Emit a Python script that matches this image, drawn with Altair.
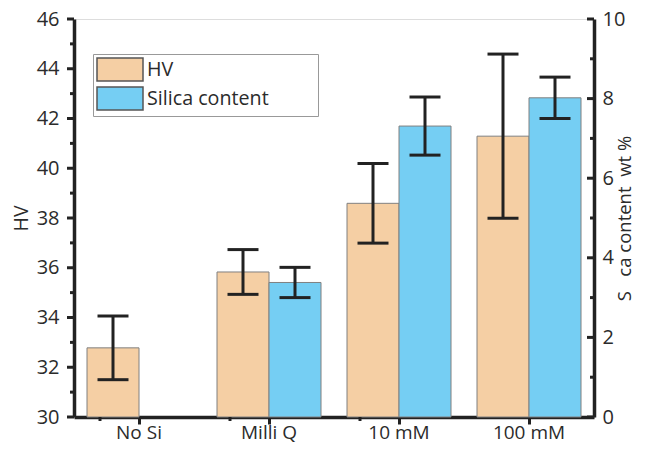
import altair as alt
import pandas as pd

categories = ["No Si", "Milli Q", "10 mM", "100 mM"]
hv = [32.78, 35.83, 38.59, 41.29]
hv_err = [1.28, 0.90, 1.60, 3.30]
silica_cats = ["Milli Q", "10 mM", "100 mM"]
silica = [3.38, 7.31, 8.02]
silica_err = [0.38, 0.73, 0.52]
series_names = ["HV", "Silica content"]
colors = ["#F5CFA4", "#75CEF3"]
hv_ticks = list(range(30, 47))
si_ticks = list(range(0, 11))
right_title = "S\u00a0\u00a0\u00a0ca content\u00a0\u00a0wt %"

hv_df = pd.DataFrame({
    "cat": categories,
    "series": "HV",
    "value": hv,
    "lo": [v - e for v, e in zip(hv, hv_err)],
    "hi": [v + e for v, e in zip(hv, hv_err)],
})
si_df = pd.DataFrame({
    "cat": silica_cats,
    "series": "Silica content",
    "value": silica,
    "lo": [v - e for v, e in zip(silica, silica_err)],
    "hi": [v + e for v, e in zip(silica, silica_err)],
})
minor_df = pd.DataFrame({"cat": categories[:-1]})

W, H = 520, 398
FONT = "Open Sans"
TXT = "#2b2b2b"
AX = "#222222"

x_axis = alt.Axis(
    title=None, labelFontSize=19, labelColor=TXT, labelFont=FONT,
    domainColor=AX, domainWidth=3.5, tickColor=AX, tickWidth=3, tickSize=7,
    labelPadding=14, labelBaseline="alphabetic", labelAngle=0,
)
x_scale = alt.Scale(domain=categories, paddingInner=0.2, paddingOuter=0.1)
x_enc = alt.X("cat:N", sort=categories, scale=x_scale, axis=x_axis)
xoff = alt.XOffset("series:N", scale=alt.Scale(domain=series_names, paddingInner=0, paddingOuter=0))
color_enc = alt.Color(
    "series:N",
    scale=alt.Scale(domain=series_names, range=colors),
    legend=alt.Legend(
        title=None, orient="none", legendX=19, legendY=35,
        symbolType="M-2,-1H2V1H-2Z", symbolSize=529, symbolOffset=11.5,
        symbolStrokeColor="#555555", symbolStrokeWidth=1.5, symbolOpacity=1,
        labelFontSize=19.7, labelFont=FONT, labelColor=TXT, labelOffset=14.5,
        labelLimit=400,
        rowPadding=0, padding=3, strokeColor="#999999", fillColor="white",
        labelExpr="datum.label + '\u00a0\u00a0\u00a0\u00a0\u00a0\u00a0\u00a0\u00a0\u00a0\u200b'",
    ),
)

def yaxis(title, orient, pad, tpad, tsize):
    return alt.Axis(
        values=[v for v in (hv_ticks if orient == "left" else si_ticks) if v % 2 == 0],
        title=title, orient=orient,
        labelFontSize=20, labelFont=FONT, labelColor=TXT,
        titleFontSize=tsize, titleFont=FONT, titleColor=TXT, titleFontWeight="normal",
        titleAngle=270, titlePadding=tpad,
        domainColor=AX, domainWidth=3.5, ticks=False,
        grid=False, labelPadding=pad,
    )

def layer_for(df, domain, ticks, title, orient):
    pad, tpad, tsize = (15, 5, 19.5) if orient == "left" else (8, 10, 18.5)
    ax = yaxis(title, orient, pad, tpad, tsize)
    sc = alt.Scale(domain=domain, nice=False, zero=False)
    base = alt.Chart(df)
    bars = base.mark_bar(stroke="#808080", strokeWidth=1, opacity=1).encode(
        x=x_enc, xOffset=xoff,
        y=alt.Y("value:Q", scale=sc, axis=ax),
        y2=alt.datum(domain[0]),
        color=color_enc,
    )
    rule = base.mark_rule(color=AX, strokeWidth=3).encode(
        x=x_enc, xOffset=xoff,
        y=alt.Y("lo:Q", scale=sc, axis=ax), y2="hi:Q",
    )
    cap_lo = base.mark_tick(color=AX, thickness=3, size=31, opacity=1).encode(
        x=x_enc, xOffset=xoff, y=alt.Y("lo:Q", scale=sc, axis=ax),
    )
    cap_hi = base.mark_tick(color=AX, thickness=3, size=31, opacity=1).encode(
        x=x_enc, xOffset=xoff, y=alt.Y("hi:Q", scale=sc, axis=ax),
    )
    tdf = pd.DataFrame({"t": ticks})
    tbase = alt.Chart(tdf)
    if orient == "left":
        major_x, minor_x, x_end = -7, -4, 0
    else:
        major_x, minor_x, x_end = W - 7, W - 4, W
    major = tbase.transform_filter("datum.t % 2 == 0").mark_rule(color=AX, strokeWidth=3).encode(
        y=alt.Y("t:Q", scale=sc, axis=ax), x=alt.value(major_x), x2=alt.value(x_end),
    )
    minor = tbase.transform_filter("datum.t % 2 != 0").mark_rule(color=AX, strokeWidth=3).encode(
        y=alt.Y("t:Q", scale=sc, axis=ax), x=alt.value(minor_x), x2=alt.value(x_end),
    )
    return alt.layer(bars, rule, cap_lo, cap_hi, major, minor)

hv_layer = layer_for(hv_df, [30, 46], hv_ticks, "HV", "left")
si_layer = layer_for(si_df, [0, 10], si_ticks, right_title, "right")

minor_x = alt.Chart(minor_df).mark_rule(color=AX, strokeWidth=3).encode(
    x=alt.X("cat:N", sort=categories, scale=x_scale, axis=x_axis, bandPosition=1),
    xOffset=alt.value(13),
    y=alt.value(H), y2=alt.value(H + 4),
)

chart = alt.layer(hv_layer, si_layer, minor_x).resolve_scale(
    y="independent"
).properties(
    width=W, height=H,
    autosize=alt.AutoSizeParams(type="none"),
    padding={"left": 66, "top": 11, "right": 43, "bottom": 27},
).configure_view(stroke=None).configure(font=FONT)

chart.save("out.html", embed_options={"renderer": "svg", "actions": False})
